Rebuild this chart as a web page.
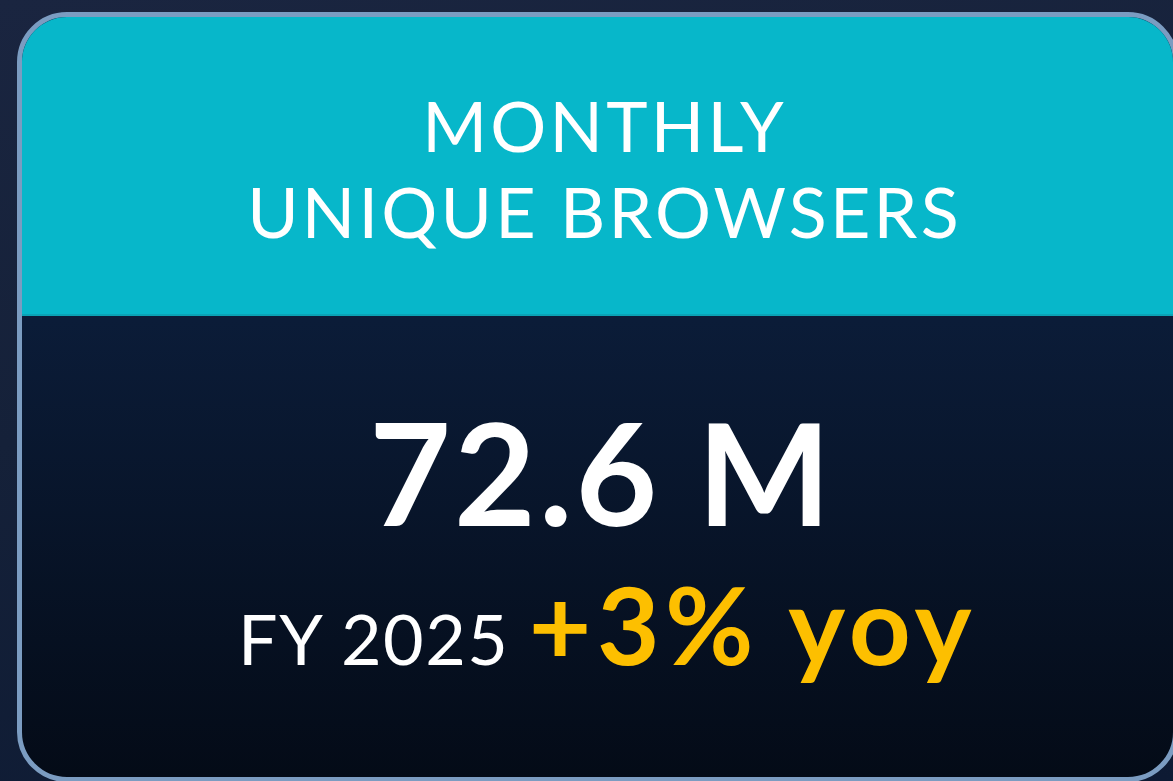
<!DOCTYPE html>
<html>
<head>
<meta charset="utf-8">
<script src="https://cdn.jsdelivr.net/npm/chart.js@4/dist/chart.umd.min.js"></script>
<style>
  html, body { margin: 0; padding: 0; }
  body {
    width: 1173px; height: 781px; overflow: hidden; position: relative;
    background: linear-gradient(170deg, #1a2540 0%, #152139 45%, #0d1a33 100%);
    font-family: Lato, "Open Sans", sans-serif;
  }
  .card {
    position: absolute; left: 17px; top: 12px; width: 1161px; height: 770px;
    box-sizing: border-box; border: 5px solid #7b9cc1; border-radius: 50px;
    overflow: hidden;
    background: linear-gradient(180deg, #10274b 0%, #0b1c38 40%, #040b17 100%);
  }
  .head {
    position: absolute; left: 0; top: 0; right: 0; height: 297px;
    background: #07b7ca; border-bottom: 2px solid #0aa3b6;
  }
  .txt { position: absolute; left: 0; width: 1173px; text-align: center; color: #fff; white-space: nowrap; }
  #title { top: 82px; left: 18px; font-size: 70px; line-height: 86px; font-weight: 400; letter-spacing: 3.2px; }
  #value { top: 401px; left: 15px; font-size: 141px; line-height: 141px; font-weight: 700; letter-spacing: 3px; }
  #sub { top: 573px; left: 21px; font-size: 70px; line-height: 100px; letter-spacing: 1.5px; }
  #sub .yoy { color: #fdbf00; font-weight: 700; font-size: 108px; letter-spacing: 5.5px; }
</style>
</head>
<body>
<div class="card"><div class="head"></div></div>
<div class="txt" id="title"></div>
<div class="txt" id="value"></div>
<div class="txt" id="sub"></div>
<script>
const titleLines = ['MONTHLY', 'UNIQUE BROWSERS'];
const kpiValue = [72.6];
const kpiUnit = ['M'];
const fiscalYear = ['FY 2025'];
const yoyChange = [3];

document.getElementById('title').innerHTML = titleLines.join('<br>');
document.getElementById('value').textContent = `${kpiValue[0].toFixed(1)} ${kpiUnit[0]}`;
document.getElementById('sub').innerHTML =
  `${fiscalYear[0]} <span class="yoy">+${yoyChange[0]}% yoy</span>`;
</script>
</body>
</html>
